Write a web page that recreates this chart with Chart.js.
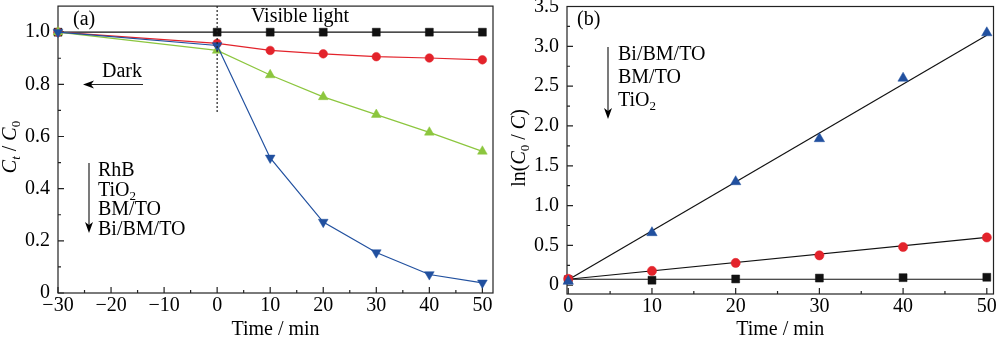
<!DOCTYPE html>
<html>
<head>
<meta charset="utf-8">
<script src="https://cdn.jsdelivr.net/npm/chart.js@4/dist/chart.umd.min.js"></script>
<style>
  body { margin: 0; background: #fff; }
  #wrap { position: relative; width: 1000px; height: 337px; }
  canvas { position: absolute; top: 0; }
</style>
</head>
<body>
<div id="wrap">
  <canvas id="left" width="500" height="337" style="left:0"></canvas>
  <canvas id="right" width="500" height="337" style="left:500px"></canvas>
</div>
<script>
// (a) Ct/C0 vs time
const timesA = [-30, 0, 10, 20, 30, 40, 50];
const rhbA = [1.0, 1.0, 1.0, 1.0, 1.0, 1.0, 1.0];
const tio2A = [1.0, 0.957, 0.930, 0.917, 0.906, 0.901, 0.894];
const bmtoA = [1.0, 0.930, 0.836, 0.752, 0.684, 0.616, 0.543];
const bibmtoA = [1.0, 0.949, 0.518, 0.272, 0.155, 0.071, 0.039];

// (b) ln(C0/C) vs time, with fitted lines
const timesB = [0, 10, 20, 30, 40, 50];
const tio2B = [0.07, 0.063, 0.079, 0.09, 0.095, 0.10];
const bmtoB = [0.08, 0.18, 0.28, 0.375, 0.48, 0.60];
const bibmtoB = [0.05, 0.66, 1.30, 1.84, 2.60, 3.17];
const fitTimes = [0, 50];
const tio2Fit = [0.075, 0.075];
const bmtoFit = [0.075, 0.60];
const bibmtoFit = [0.07, 3.14];

// ticks
const xTicksA = [-30, -20, -10, 0, 10, 20, 30, 40, 50];
const xMinorA = [-25, -15, -5, 5, 15, 25, 35, 45];
const yTicksA = [0, 0.2, 0.4, 0.6, 0.8, 1.0];
const yMinorA = [0.1, 0.3, 0.5, 0.7, 0.9];
const xTicksB = [0, 10, 20, 30, 40, 50];
const xMinorB = [5, 15, 25, 35, 45];
const yTicksB = [0, 0.5, 1.0, 1.5, 2.0, 2.5, 3.0, 3.5];
const yMinorB = [0.25, 0.75, 1.25, 1.75, 2.25, 2.75, 3.25];

const RED = '#e3232b';
const GREEN = '#8cc63e';
const BLUE = '#21509f';
const BLACK = '#111111';
const serif = '"Liberation Serif", "DejaVu Serif", serif';
const FS = 20;

function pts(xs, ys) {
  return xs.map((x, i) => ({ x: x, y: ys[i] }));
}

function fontFor(p, size) {
  return (p[1] ? 'italic ' : '') + (p[2] ? Math.round(size * 0.65) : size) + 'px ' + serif;
}

// parts: [text, italic, subscript]
function richText(ctx, parts, x, y, size, align) {
  const widths = parts.map(p => { ctx.font = fontFor(p, size); return ctx.measureText(p[0]).width; });
  const total = widths.reduce((a, b) => a + b, 0);
  let cx = align === 'center' ? x - total / 2 : x;
  ctx.textAlign = 'left';
  ctx.textBaseline = 'alphabetic';
  parts.forEach((p, i) => {
    ctx.font = fontFor(p, size);
    ctx.fillText(p[0], cx, y + (p[2] ? size * 0.2 : 0));
    cx += widths[i];
  });
}

function arrow(ctx, x1, y1, x2, y2) {
  const ang = Math.atan2(y2 - y1, x2 - x1);
  ctx.beginPath();
  ctx.moveTo(x1, y1);
  ctx.lineTo(x2 - 8 * Math.cos(ang), y2 - 8 * Math.sin(ang));
  ctx.stroke();
  ctx.beginPath();
  ctx.moveTo(x2, y2);
  ctx.lineTo(x2 - 11 * Math.cos(ang) + 4 * Math.sin(ang), y2 - 11 * Math.sin(ang) - 4 * Math.cos(ang));
  ctx.lineTo(x2 - 8 * Math.cos(ang), y2 - 8 * Math.sin(ang));
  ctx.lineTo(x2 - 11 * Math.cos(ang) - 4 * Math.sin(ang), y2 - 11 * Math.sin(ang) + 4 * Math.cos(ang));
  ctx.closePath();
  ctx.fill();
}

function fmt(v) {
  if (v === 0) return '0';
  if (v < 0) return '\u2212' + Math.abs(v);
  return String(v);
}

// frame with inward ticks
function frameTicks(xMajor, xMinor, yMajor, yMinor) {
  return {
    id: 'frameTicks',
    beforeDatasetsDraw(chart) {
      const { ctx, chartArea: a, scales: { x, y } } = chart;
      ctx.save();
      ctx.strokeStyle = '#222';
      ctx.lineWidth = 1.2;
      ctx.strokeRect(a.left, a.top, a.right - a.left, a.bottom - a.top);
      ctx.beginPath();
      xMajor.forEach(v => { const p = x.getPixelForValue(v); ctx.moveTo(p, a.bottom); ctx.lineTo(p, a.bottom - 6); });
      xMinor.forEach(v => { const p = x.getPixelForValue(v); ctx.moveTo(p, a.bottom); ctx.lineTo(p, a.bottom - 3); });
      yMajor.forEach(v => { const p = y.getPixelForValue(v); ctx.moveTo(a.left, p); ctx.lineTo(a.left + 6, p); });
      yMinor.forEach(v => { const p = y.getPixelForValue(v); ctx.moveTo(a.left, p); ctx.lineTo(a.left + 3, p); });
      ctx.stroke();
      ctx.restore();
    }
  };
}

function scales(xMin, xMax, xTicks, yMin, yMax, yTicks, yWidth, xHeight) {
  const tickFont = { family: serif, size: FS };
  return {
    x: {
      type: 'linear', min: xMin, max: xMax,
      grid: { display: false, drawTicks: false }, border: { display: false },
      ticks: { font: tickFont, color: '#000', padding: 1, maxRotation: 0, callback: v => fmt(v) },
      afterBuildTicks: s => { s.ticks = xTicks.map(v => ({ value: v })); },
      afterFit: s => { s.height = xHeight; s.paddingLeft = 0; s.paddingRight = 0; }
    },
    y: {
      type: 'linear', min: yMin, max: yMax,
      grid: { display: false, drawTicks: false }, border: { display: false },
      ticks: { font: tickFont, color: '#000', padding: 8, callback: v => v === 0 ? '0' : v.toFixed(1) },
      afterBuildTicks: s => { s.ticks = yTicks.map(v => ({ value: v })); },
      afterFit: s => { s.width = yWidth; s.paddingTop = 0; s.paddingBottom = 0; }
    }
  };
}

function series(data, color, style, rot, radius, order, line) {
  return {
    data: data, borderColor: color, backgroundColor: color,
    borderWidth: 1.2, pointStyle: style, pointRotation: rot, pointRadius: radius,
    pointBorderWidth: 0.5, showLine: line, order: order, clip: false, tension: 0
  };
}

const baseOpts = {
  responsive: false, animation: false, devicePixelRatio: 1,
  plugins: { legend: { display: false }, tooltip: { enabled: false } }
};

// ---------- panel (a)
const annotA = {
  id: 'annotA',
  afterDraw(chart) {
    const { ctx, chartArea: a, scales: { x, y } } = chart;
    ctx.save();
    ctx.fillStyle = '#000';
    ctx.strokeStyle = '#222';
    // dotted line at t = 0
    ctx.lineWidth = 1.2;
    ctx.setLineDash([2, 2]);
    ctx.beginPath();
    ctx.moveTo(x.getPixelForValue(0), a.top);
    ctx.lineTo(x.getPixelForValue(0), y.getPixelForValue(0.687));
    ctx.stroke();
    ctx.setLineDash([]);
    richText(ctx, [['(a)']], 73, 25, FS);
    richText(ctx, [['Visible light']], 300, 22, FS, 'center');
    richText(ctx, [['Dark']], 102, 77, FS);
    ctx.lineWidth = 1.2;
    arrow(ctx, 143, 84.5, 83, 84.5);
    arrow(ctx, 89, 163, 89, 233);
    const lines = [[['RhB']], [['TiO'], ['2', false, true]], [['BM/TO']], [['Bi/BM/TO']]];
    lines.forEach((l, i) => richText(ctx, l, 98, 176 + 19.5 * i, FS));
    richText(ctx, [['Time / min']], (a.left + a.right) / 2, 335, FS, 'center');
    ctx.translate(16, 147);
    ctx.rotate(-Math.PI / 2);
    richText(ctx, [['C', true], ['t', true, true], [' / '], ['C', true], ['0', false, true]], 0, 0, FS, 'center');
    ctx.restore();
  }
};

new Chart(document.getElementById('left'), {
  type: 'line',
  data: {
    datasets: [
      series(pts(timesA, rhbA), BLACK, 'rect', 0, 5.6, 4, true),
      series(pts(timesA, tio2A), RED, 'circle', 0, 4.3, 3, true),
      series(pts(timesA, bmtoA), GREEN, 'triangle', 0, 5.6, 2, true),
      series(pts(timesA, bibmtoA), BLUE, 'triangle', 180, 5.6, 1, true)
    ]
  },
  options: Object.assign({}, baseOpts, {
    layout: { padding: { top: 5, right: 7, left: 0, bottom: 0 } },
    scales: scales(-30, 52, xTicksA, 0, 1.1, yTicksA, 58, 44)
  }),
  plugins: [frameTicks(xTicksA, xMinorA, yTicksA, yMinorA), annotA]
});

// ---------- panel (b)
const annotB = {
  id: 'annotB',
  afterDraw(chart) {
    const { ctx, chartArea: a } = chart;
    ctx.save();
    ctx.fillStyle = '#000';
    ctx.strokeStyle = '#222';
    ctx.lineWidth = 1.2;
    richText(ctx, [['(b)']], 77, 25, FS);
    arrow(ctx, 108, 47, 108, 119);
    const lines = [[['Bi/BM/TO']], [['BM/TO']], [['TiO'], ['2', false, true]]];
    lines.forEach((l, i) => richText(ctx, l, 118, 60 + 23 * i, FS));
    richText(ctx, [['Time / min']], (a.left + a.right) / 2, 335, FS, 'center');
    ctx.translate(25, 148);
    ctx.rotate(-Math.PI / 2);
    richText(ctx, [['ln('], ['C', true], ['0', false, true], [' / '], ['C', true], [')']], 0, 0, FS, 'center');
    ctx.restore();
  }
};

function fitLine(data, order) {
  return {
    data: data, borderColor: BLACK, borderWidth: 1.2, pointRadius: 0,
    showLine: true, order: order, clip: false, tension: 0
  };
}

new Chart(document.getElementById('right'), {
  type: 'line',
  data: {
    datasets: [
      fitLine(pts(fitTimes, tio2Fit), 6),
      fitLine(pts(fitTimes, bmtoFit), 5),
      fitLine(pts(fitTimes, bibmtoFit), 4),
      series(pts(timesB, tio2B), BLACK, 'rect', 0, 5.6, 3, false),
      series(pts(timesB, bmtoB), RED, 'circle', 0, 4.6, 2, false),
      series(pts(timesB, bibmtoB), BLUE, 'triangle', 0, 6, 1, false)
    ]
  },
  options: Object.assign({}, baseOpts, {
    layout: { padding: { top: 5, right: 3, left: 0, bottom: 0 } },
    scales: scales(-0.15, 50.8, xTicksB, -0.11, 3.5, yTicksB, 67, 43)
  }),
  plugins: [frameTicks(xTicksB, xMinorB, yTicksB, yMinorB), annotB]
});
</script>
</body>
</html>
